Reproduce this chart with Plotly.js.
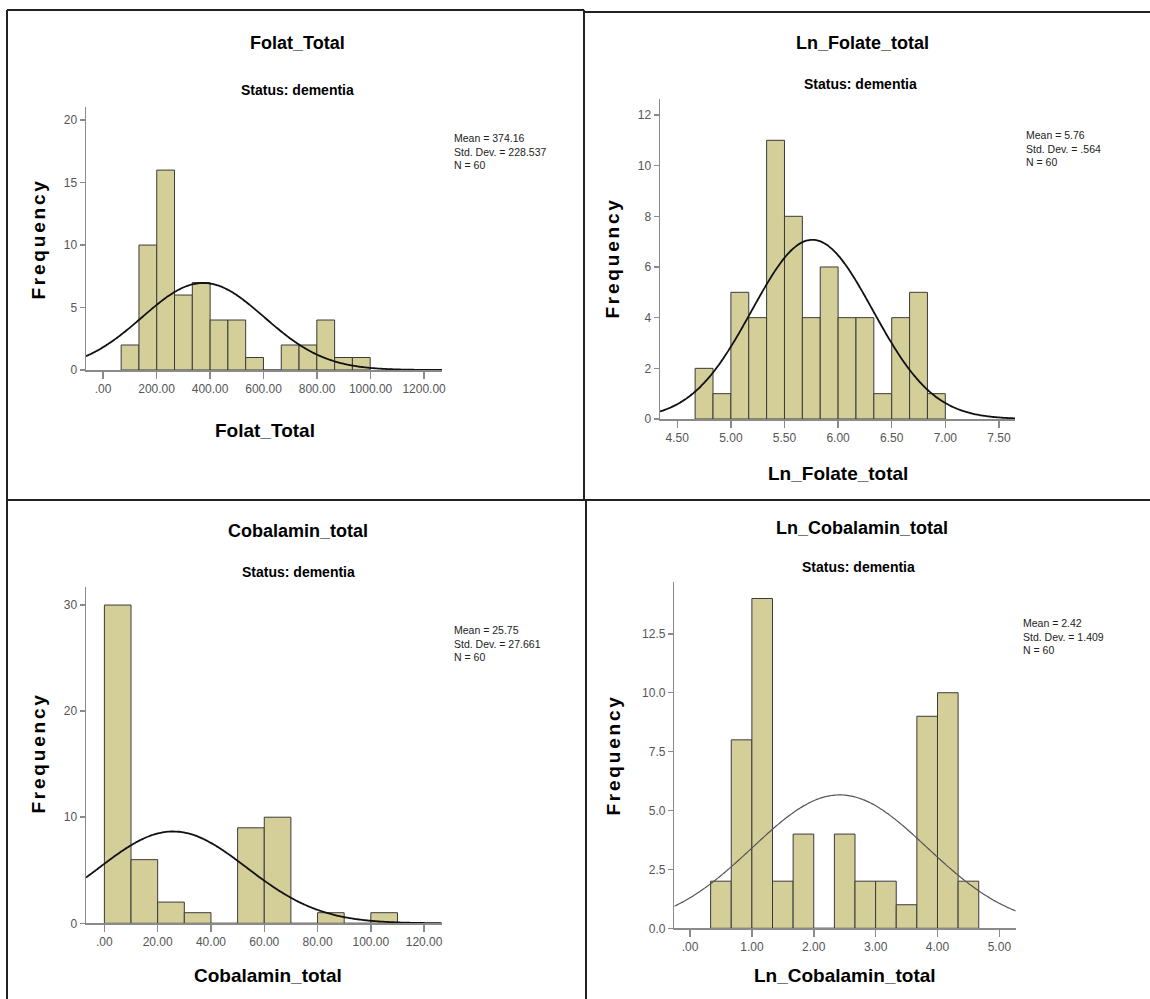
<!DOCTYPE html>
<html>
<head>
<meta charset="utf-8">
<script src="https://cdn.plot.ly/plotly-3.0.1.min.js"></script>
<style>
html,body{margin:0;padding:0;background:#fff;}
#chart{width:1150px;height:999px;}
#chart text.annotation-text[data-unformatted*="Frequency"]{letter-spacing:2.8px;}
</style>
</head>
<body>
<div id="chart"></div>
<script>
// ---------- data ----------
const titles = ["Folat_Total", "Ln_Folate_total", "Cobalamin_total", "Ln_Cobalamin_total"];
const subtitle = "Status: dementia";

const folatCounts = [2, 10, 16, 6, 7, 4, 4, 1, 0, 2, 2, 4, 1, 1];
const folatBinStart = 67.5;
const folatBinWidth = 66.5;
const folatMean = 374.16, folatSD = 228.537, folatN = 60;

const lnFolateCounts = [2, 1, 5, 4, 11, 8, 4, 6, 4, 4, 1, 4, 5, 1];
const lnFolateBinStart = 4.6667;
const lnFolateBinWidth = 0.16667;
const lnFolateMean = 5.76, lnFolateSD = 0.564, lnFolateN = 60;

const cobalCounts = [30, 6, 2, 1, 0, 9, 10, 0, 1, 0, 1];
const cobalBinStart = 0;
const cobalBinWidth = 10;
const cobalMean = 25.75, cobalSD = 27.661, cobalN = 60;

const lnCobalCounts = [2, 8, 14, 2, 4, 0, 4, 2, 2, 1, 9, 10, 2];
const lnCobalBinStart = 0.33333;
const lnCobalBinWidth = 0.33333;
const lnCobalMean = 2.42, lnCobalSD = 1.409, lnCobalN = 60;

const statsText = [
  ["Mean = 374.16", "Std. Dev. = 228.537", "N = 60"],
  ["Mean = 5.76", "Std. Dev. = .564", "N = 60"],
  ["Mean = 25.75", "Std. Dev. = 27.661", "N = 60"],
  ["Mean = 2.42", "Std. Dev. = 1.409", "N = 60"]
];

const folatXTicks = [0, 200, 400, 600, 800, 1000, 1200];
const folatXLabels = [".00", "200.00", "400.00", "600.00", "800.00", "1000.00", "1200.00"];
const folatYTicks = [0, 5, 10, 15, 20];

const lnFolateXTicks = [4.5, 5.0, 5.5, 6.0, 6.5, 7.0, 7.5];
const lnFolateXLabels = ["4.50", "5.00", "5.50", "6.00", "6.50", "7.00", "7.50"];
const lnFolateYTicks = [0, 2, 4, 6, 8, 10, 12];

const cobalXTicks = [0, 20, 40, 60, 80, 100, 120];
const cobalXLabels = [".00", "20.00", "40.00", "60.00", "80.00", "100.00", "120.00"];
const cobalYTicks = [0, 10, 20, 30];

const lnCobalXTicks = [0, 1, 2, 3, 4, 5];
const lnCobalXLabels = [".00", "1.00", "2.00", "3.00", "4.00", "5.00"];
const lnCobalYTicks = [0, 2.5, 5, 7.5, 10, 12.5];
const lnCobalYLabels = ["0.0", "2.5", "5.0", "7.5", "10.0", "12.5"];

// ---------- layout helpers ----------
const W = 1150, H = 999;
const px = x => x / W;
const py = y => 1 - y / H;

const panels = [
  {counts: folatCounts, start: folatBinStart, width: folatBinWidth, mean: folatMean, sd: folatSD, n: folatN,
   xr: [-64, 1267], yr: [0, 21.05], xt: folatXTicks, xl: folatXLabels, yt: folatYTicks, yl: null,
   box: [86, 442, 107, 370], title: [297, 43], sub: [297, 90], xtitle: [265, 431], ytitle: [38, 239], stats: [452, 130],
   curveColor: "#111", curveWidth: 1.8},
  {counts: lnFolateCounts, start: lnFolateBinStart, width: lnFolateBinWidth, mean: lnFolateMean, sd: lnFolateSD, n: lnFolateN,
   xr: [4.339, 7.65], yr: [0, 12.63], xt: lnFolateXTicks, xl: lnFolateXLabels, yt: lnFolateYTicks, yl: null,
   box: [660, 1015, 99, 419], title: [862, 43], sub: [860, 84], xtitle: [838, 473], ytitle: [613, 258], stats: [1024, 127],
   curveColor: "#111", curveWidth: 1.8},
  {counts: cobalCounts, start: cobalBinStart, width: cobalBinWidth, mean: cobalMean, sd: cobalSD, n: cobalN,
   xr: [-6.9, 126.6], yr: [0, 31.7], xt: cobalXTicks, xl: cobalXLabels, yt: cobalYTicks, yl: null,
   box: [86, 441.7, 587, 923.3], title: [298, 531], sub: [298, 572], xtitle: [268, 975], ytitle: [38, 753], stats: [452, 622],
   curveColor: "#111", curveWidth: 1.8},
  {counts: lnCobalCounts, start: lnCobalBinStart, width: lnCobalBinWidth, mean: lnCobalMean, sd: lnCobalSD, n: lnCobalN,
   xr: [-0.254, 5.264], yr: [0, 14.7], xt: lnCobalXTicks, xl: lnCobalXLabels, yt: lnCobalYTicks, yl: lnCobalYLabels,
   box: [674.3, 1015.7, 582, 928.3], title: [862, 528], sub: [858, 567], xtitle: [845, 975], ytitle: [613, 755], stats: [1021, 615],
   curveColor: "#555", curveWidth: 1.2}
];

const sans = "Liberation Sans, Arial, Helvetica, sans-serif";
const traces = [];
const annotations = [];
const layout = {
  width: W, height: H, margin: {l: 0, r: 0, t: 0, b: 0},
  paper_bgcolor: "#fff", plot_bgcolor: "rgba(0,0,0,0)", showlegend: false,
  font: {family: sans, color: "#000"},
  bargap: 0
};

panels.forEach((p, i) => {
  const k = i === 0 ? "" : String(i + 1);
  const xa = "x" + k, ya = "y" + k;
  const centers = p.counts.map((c, j) => p.start + p.width * (j + 0.5));
  traces.push({
    type: "bar", x: centers, y: p.counts, width: p.width, xaxis: xa, yaxis: ya,
    marker: {color: "rgb(212,207,152)", line: {color: "#3a3a3a", width: 1}},
    hoverinfo: "x+y"
  });
  // fitted normal curve from mean, SD, N and bin width
  const cx = [], cy = [];
  const steps = 200;
  for (let s = 0; s <= steps; s++) {
    const x = p.xr[0] + (p.xr[1] - p.xr[0]) * s / steps;
    const z = (x - p.mean) / p.sd;
    cx.push(x);
    cy.push(p.n * p.width / (p.sd * Math.sqrt(2 * Math.PI)) * Math.exp(-0.5 * z * z));
  }
  traces.push({
    type: "scatter", mode: "lines", x: cx, y: cy, xaxis: xa, yaxis: ya,
    line: {color: p.curveColor, width: p.curveWidth, shape: "spline"}, hoverinfo: "skip"
  });

  const axisCommon = {
    showgrid: false, zeroline: false, showline: true, linecolor: "#8a8a8a", linewidth: 1.5,
    ticks: "outside", tickcolor: "#8a8a8a", tickwidth: 1.5,
    tickfont: {family: sans, size: 12, color: "#555"}, fixedrange: true
  };
  layout["xaxis" + k] = Object.assign({}, axisCommon, {
    domain: [px(p.box[0]), px(p.box[1])], range: p.xr, anchor: ya,
    tickmode: "array", tickvals: p.xt, ticktext: p.xl, ticklen: 7
  });
  layout["yaxis" + k] = Object.assign({}, axisCommon, {
    domain: [py(p.box[3]), py(p.box[2])], range: p.yr, anchor: xa,
    tickmode: "array", tickvals: p.yt, ticktext: p.yl ? p.yl : p.yt.map(String), ticklen: 5
  });

  annotations.push({xref: "paper", yref: "paper", x: px(p.title[0]), y: py(p.title[1]), xanchor: "center", yanchor: "middle",
    text: "<b>" + titles[i] + "</b>", showarrow: false, font: {family: sans, size: 18, color: "#000"}});
  annotations.push({xref: "paper", yref: "paper", x: px(p.sub[0]), y: py(p.sub[1]), xanchor: "center", yanchor: "middle",
    text: "<b>" + subtitle + "</b>", showarrow: false, font: {family: sans, size: 14, color: "#000"}});
  annotations.push({xref: "paper", yref: "paper", x: px(p.xtitle[0]), y: py(p.xtitle[1]), xanchor: "center", yanchor: "middle",
    text: "<b>" + titles[i] + "</b>", showarrow: false, font: {family: sans, size: 19, color: "#000"}});
  annotations.push({xref: "paper", yref: "paper", x: px(p.ytitle[0]), y: py(p.ytitle[1]), xanchor: "center", yanchor: "middle",
    text: "<b>Frequency</b>", textangle: -90, showarrow: false,
    font: {family: sans, size: 19, color: "#000"}});
  annotations.push({xref: "paper", yref: "paper", x: px(p.stats[0]), y: py(p.stats[1]), xanchor: "left", yanchor: "top",
    align: "left", text: statsText[i].join("<br>"), showarrow: false,
    font: {family: sans, size: 10.5, color: "#222"}});
});

layout.annotations = annotations;
const lineStyle = {color: "#222", width: 2};
layout.shapes = [
  {type: "line", xref: "paper", yref: "paper", x0: px(7), x1: px(584), y0: py(10), y1: py(10), line: lineStyle},
  {type: "line", xref: "paper", yref: "paper", x0: px(584), x1: px(1150), y0: py(12), y1: py(12), line: lineStyle},
  {type: "line", xref: "paper", yref: "paper", x0: px(7), x1: px(7), y0: py(10), y1: py(999), line: lineStyle},
  {type: "line", xref: "paper", yref: "paper", x0: px(584), x1: px(584), y0: py(10), y1: py(500), line: lineStyle},
  {type: "line", xref: "paper", yref: "paper", x0: px(586), x1: px(586), y0: py(500), y1: py(999), line: lineStyle},
  {type: "line", xref: "paper", yref: "paper", x0: px(7), x1: px(1150), y0: py(500), y1: py(500), line: lineStyle}
];

Plotly.newPlot("chart", traces, layout, {staticPlot: true, displayModeBar: false});
</script>
</body>
</html>
